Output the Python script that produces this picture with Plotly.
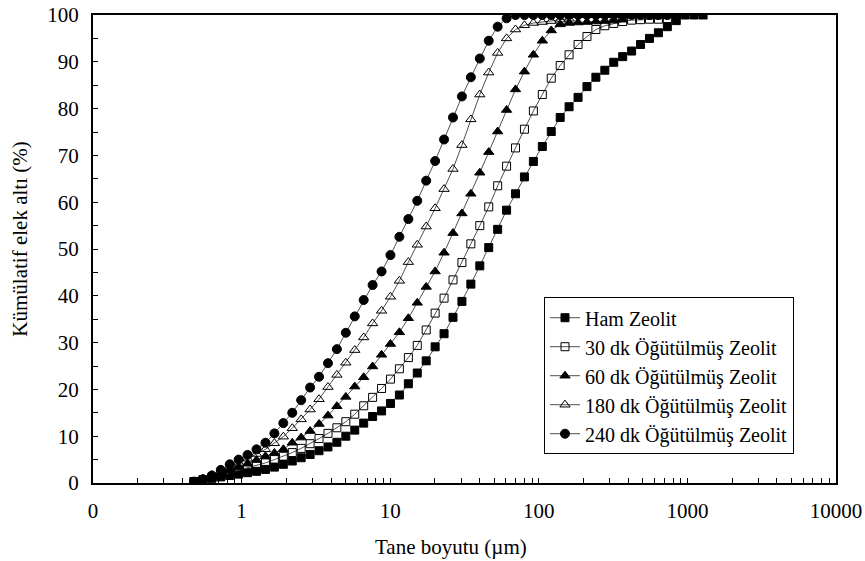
import plotly.graph_objects as go

# Particle size (µm) grid of the measurement
sizes = [0.478, 0.549, 0.631, 0.724, 0.832, 0.955, 1.097, 1.260, 1.447, 1.662,
         1.909, 2.192, 2.517, 2.891, 3.320, 3.813, 4.378, 5.028, 5.774, 6.631,
         7.615, 8.746, 10.04, 11.53, 13.25, 15.21, 17.47, 20.06, 23.04, 26.46,
         30.39, 34.90, 40.08, 46.03, 52.86, 60.70, 69.71, 80.06, 91.94, 105.6,
         121.3, 139.3, 159.9, 183.7, 210.9, 242.2, 278.2, 319.5, 366.9, 421.3,
         483.9, 555.7, 638.2, 732.8, 841.6, 966.5, 1110, 1275]

ham = [0.3, 0.6, 1.0, 1.3, 1.6, 1.9, 2.2, 2.5, 2.9, 3.4,
       4.0, 4.7, 5.4, 6.1, 6.9, 7.7, 8.7, 10.0, 11.3, 12.8,
       14.2, 15.4, 17.0, 18.8, 21.2, 23.5, 26.1, 29.1, 31.9, 35.4,
       38.8, 42.5, 46.4, 50.3, 54.2, 58.3, 61.8, 65.4, 68.7, 71.9,
       75.1, 78.1, 80.4, 82.4, 84.7, 86.7, 88.2, 89.9, 91.1, 92.3,
       93.7, 95.0, 96.2, 97.5, 98.8, 100, 100, 100]

dk30 = [0.3, 0.7, 1.2, 1.7, 2.2, 2.7, 3.2, 3.7, 4.3, 5.0,
        5.7, 6.5, 7.4, 8.4, 9.5, 10.6, 11.8, 13.1, 14.7, 16.5,
        18.3, 20.2, 22.2, 24.4, 26.8, 29.4, 32.7, 36.3, 39.5, 43.4,
        47.1, 51.1, 55.0, 59.0, 63.5, 67.7, 71.6, 75.6, 79.5, 83.0,
        86.5, 89.2, 91.5, 93.7, 95.4, 96.9, 97.7, 98.2, 98.6, 98.9,
        99.0, 99.1, 99.1, 99.2, 100]

dk60 = [0.3, 0.8, 1.4, 2.0, 2.7, 3.4, 4.1, 4.9, 5.7, 6.4,
        7.2, 8.6, 9.7, 11.1, 12.6, 14.4, 16.4, 18.4, 20.6, 22.6,
        24.9, 27.4, 29.7, 32.2, 35.2, 38.5, 41.9, 45.2, 49.2, 53.4,
        57.6, 61.8, 66.3, 70.7, 75.1, 79.7, 84.1, 87.9, 91.5, 94.5,
        96.7, 98.0, 98.3, 98.4, 98.5, 98.6, 98.7, 98.8, 99.0, 100,
        100, 100, 100]

dk180 = [0.3, 0.9, 1.7, 2.5, 3.4, 4.3, 5.2, 6.2, 7.2, 8.5,
         9.9, 11.7, 13.6, 15.7, 17.9, 20.5, 23.1, 25.7, 28.4, 31.1,
         34.1, 36.8, 39.8, 43.2, 47.2, 50.9, 54.8, 58.7, 62.8, 67.1,
         72.2, 77.7, 83.0, 87.7, 91.9, 95.0, 96.9, 97.8, 98.3, 98.5,
         98.7, 99.0, 99.2, 100, 100, 100, 100, 100, 100, 100, 100]

dk240 = [0.3, 0.8, 1.6, 2.8, 4.0, 5.0, 6.0, 7.2, 8.6, 10.6,
         12.8, 15.0, 17.7, 20.4, 22.7, 25.6, 28.6, 32.1, 35.6, 39.1,
         42.3, 45.2, 48.7, 52.6, 56.4, 60.3, 64.6, 68.8, 73.4, 78.1,
         82.6, 86.7, 90.7, 94.5, 97.5, 99.3, 100, 100, 100, 100,
         100, 100, 100, 100, 100, 100, 100, 100, 100, 100,
         100, 100, 100, 100, 100]

names = ["Ham Zeolit", "30 dk Öğütülmüş Zeolit", "60 dk Öğütülmüş Zeolit",
         "180 dk Öğütülmüş Zeolit", "240 dk Öğütülmüş Zeolit"]
series = [ham, dk30, dk60, dk180, dk240]
symbols = ["square", "square-open", "triangle-up", "triangle-up-open", "circle"]
msizes = [8, 8, 9, 9, 9]

x_tickvals = [0.1, 1, 10, 100, 1000, 10000]
x_ticktext = ["0", "1", "10", "100", "1000", "10000"]

FONT = "Liberation Serif"

fig = go.Figure()
for name, ys, sym, ms in zip(names, series, symbols, msizes):
    fig.add_trace(go.Scatter(
        x=sizes[:len(ys)], y=ys, name=name, mode="lines+markers",
        line=dict(color="#505050", width=1),
        marker=dict(symbol=sym, size=ms, color="black",
                    line=dict(color="black", width=1)),
    ))

minor_vals = [m * 10 ** e for e in range(-1, 4) for m in range(2, 10)]

fig.update_layout(
    width=865, height=561,
    margin=dict(l=93, r=29, t=15, b=78),
    paper_bgcolor="white", plot_bgcolor="white",
    font=dict(family=FONT, size=21, color="black"),
    showlegend=True,
    legend=dict(x=0.607, y=0.397, xanchor="left", yanchor="top",
                bordercolor="black", borderwidth=1, bgcolor="white",
                font=dict(family=FONT, size=20, color="black")),
    xaxis=dict(type="log", range=[-1, 4], tickmode="array",
               tickvals=x_tickvals, ticktext=x_ticktext, automargin=False,
               ticks="inside", ticklen=5, tickcolor="black", tickwidth=1,
               minor=dict(tickmode="array", tickvals=minor_vals, ticks="inside",
                          ticklen=5, tickcolor="black", tickwidth=1),
               showline=True, linecolor="black", linewidth=2, mirror=True,
               showgrid=False, zeroline=False, ticklabelstandoff=8),
    yaxis=dict(range=[0, 100], tickmode="array", tickvals=list(range(0, 101, 10)),
               automargin=False,
               ticks="inside", ticklen=5, tickcolor="black", tickwidth=1,
               minor=dict(tickmode="array", tickvals=list(range(5, 100, 10)),
                          ticks="inside", ticklen=5, tickcolor="black", tickwidth=1),
               showline=True, linecolor="black", linewidth=2, mirror=True,
               showgrid=False, zeroline=False, ticklabelstandoff=8),
    annotations=[
        dict(text="Tane boyutu (µm)", xref="paper", yref="paper",
             x=0.482, y=0, yshift=-64, showarrow=False,
             xanchor="center", yanchor="middle", font=dict(size=21)),
        dict(text="Kümülatif elek altı (%)", xref="paper", yref="paper",
             x=0, xshift=-73, y=0.52, showarrow=False, textangle=-90,
             xanchor="center", yanchor="middle", font=dict(size=21)),
    ],
)

fig.write_html("out.html")
